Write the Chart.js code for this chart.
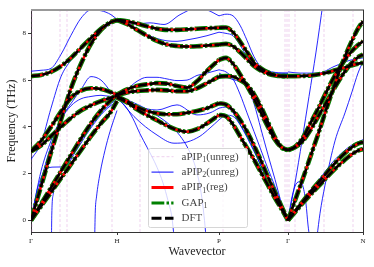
<!DOCTYPE html>
<html>
<head>
<meta charset="utf-8">
<script src="https://cdn.jsdelivr.net/npm/chart.js"></script>
<style>
  html, body { margin: 0; padding: 0; background: #fff; }
  canvas { display: block; }
</style>
</head>
<body>
<canvas id="myChart" width="374" height="267"></canvas>
<script>
// high symmetry points on the path
const pathTicks = [0, 0.86, 1.88, 2.57, 3.32];
const pathLabels = ['Γ', 'H', 'P', 'Γ', 'N'];
const freqTicks = [0, 2, 4, 6, 8];

// sample positions per segment
const xGH = [0, 0.10, 0.20, 0.30, 0.40, 0.50, 0.60, 0.70, 0.80, 0.86];
const xHP = [0.86, 0.96, 1.06, 1.16, 1.26, 1.36, 1.46, 1.56, 1.66, 1.76, 1.88];
const xPG = [1.88, 1.95, 2.02, 2.09, 2.16, 2.23, 2.30, 2.37, 2.44, 2.51, 2.57];
const xGN = [2.57, 2.64, 2.72, 2.80, 2.88, 2.96, 3.04, 3.12, 3.20, 3.27, 3.32];

// DFT / GAP / aPIP1(reg) bands (THz), they sit on top of each other
const bandsGH = [
  [6.17, 6.22, 6.35, 6.6, 6.95, 7.38, 7.8, 8.2, 8.48, 8.57],
  [0, 1.45, 2.9, 4.3, 5.65, 6.7, 7.55, 8.15, 8.48, 8.57],
  [2.95, 3.4, 4.0, 4.65, 5.25, 5.55, 5.65, 5.62, 5.48, 5.38],
  [2.95, 3.2, 3.6, 4.0, 4.38, 4.7, 4.92, 5.1, 5.25, 5.31],
  [0, 0.6, 1.2, 1.8, 2.4, 3.0, 3.6, 4.15, 4.65, 5.1],
  [0, 0.7, 1.4, 2.1, 2.8, 3.5, 4.15, 4.7, 5.15, 5.35]
];
const bandsHP = [
  [8.57, 8.52, 8.42, 8.3, 8.2, 8.15, 8.15, 8.17, 8.2, 8.22, 8.24],
  [8.57, 8.4, 8.15, 7.9, 7.68, 7.52, 7.46, 7.44, 7.45, 7.48, 7.52],
  [5.38, 5.6, 5.75, 5.82, 5.87, 5.85, 5.75, 5.68, 5.95, 6.4, 6.87],
  [5.35, 5.47, 5.53, 5.56, 5.58, 5.56, 5.52, 5.52, 5.65, 5.87, 6.15],
  [5.31, 5.1, 4.85, 4.68, 4.58, 4.54, 4.54, 4.6, 4.68, 4.8, 5.01],
  [5.25, 5.05, 4.75, 4.5, 4.28, 4.05, 3.87, 3.79, 3.9, 4.15, 4.51]
];
const bandsPG = [
  [8.24, 8.25, 8.05, 7.65, 7.2, 6.75, 6.5, 6.33, 6.22, 6.17, 6.17],
  [7.52, 7.55, 7.45, 7.2, 6.9, 6.6, 6.4, 6.27, 6.2, 6.17, 6.17],
  [6.87, 6.95, 6.7, 6.25, 5.75, 5.2, 4.6, 4.0, 3.45, 3.1, 3.0],
  [6.15, 6.17, 6.15, 6.0, 5.8, 5.4, 4.85, 4.2, 3.55, 3.12, 3.0],
  [5.01, 4.95, 4.7, 4.3, 3.8, 3.2, 2.55, 1.85, 1.2, 0.55, 0],
  [4.51, 4.45, 4.1, 3.6, 3.1, 2.6, 2.05, 1.5, 0.95, 0.45, 0]
];
const bandsGN = [
  [6.17, 6.17, 6.18, 6.2, 6.25, 6.32, 6.42, 6.52, 6.62, 6.7, 6.74],
  [0, 0.85, 1.8, 2.8, 3.8, 4.85, 5.85, 6.8, 7.6, 8.2, 8.52],
  [3.0, 3.15, 3.55, 4.2, 4.85, 5.55, 6.2, 6.75, 7.2, 7.5, 7.66],
  [3.0, 3.12, 3.4, 3.9, 4.5, 5.1, 5.7, 6.25, 6.7, 6.98, 7.09],
  [0, 0.35, 0.75, 1.12, 1.48, 1.85, 2.2, 2.52, 2.8, 2.98, 3.05],
  [0, 0.4, 0.82, 1.25, 1.65, 2.05, 2.45, 2.8, 3.1, 3.28, 3.35]
];

// aPIP2 (unreg) - thin blue lines, [x values, y values]
const aPIP2Lines = [
  [xGH, [6.38, 6.42, 6.5, 7.1, 7.92, 8.65, 9.0, 8.97, 8.8, 8.6]],
  [xGH, [2.6, 3.3, 4.8, 6.15, 6.85, 7.3, 7.7, 8.1, 8.42, 8.57]],
  [xGH, [0, 2.1, 3.4, 4.35, 5.0, 5.6, 6.15, 6.0, 5.5, 5.25]],
  [[0, 0.07, 0.17, 0.25, 0.34, 0.44, 0.59, 0.74, 0.86], [0, 1.44, 2.25, 2.28, 2.3, 2.9, 3.9, 4.7, 5.1]],
  [[0.205, 0.208, 0.223, 0.273, 0.357, 0.47, 0.61, 0.75, 0.86], [-0.7, 0.27, 1.13, 1.98, 2.4, 3.2, 4.1, 4.8, 5.2]],
  [[0.637, 0.643, 0.655, 0.69, 0.74, 0.79, 0.86], [-0.7, 0.4, 1.0, 2.0, 3.0, 3.8, 4.7]],
  [xGH, [0, 1.7, 3.2, 4.3, 4.9, 5.2, 5.3, 5.35, 5.3, 5.3]],
  [[0.86, 1.03, 1.19, 1.33, 1.49, 1.64, 1.76, 1.88], [8.57, 8.4, 8.45, 8.38, 8.8, 9.05, 9.0, 8.75]],
  [xHP, [8.57, 8.45, 8.2, 7.95, 7.78, 7.68, 7.66, 7.72, 7.8, 7.9, 8.05]],
  [xHP, [5.3, 5.6, 5.95, 6.12, 6.12, 6.05, 5.98, 6.0, 6.2, 6.3, 6.44]],
  [[0.86, 0.94, 1.02, 1.09, 1.16, 1.26, 1.32, 1.37, 1.41, 1.43], [5.2, 4.9, 4.35, 3.7, 3.13, 2.27, 1.6, 0.84, 0.1, -0.7]],
  [[0.86, 0.99, 1.14, 1.29, 1.41, 1.51, 1.59, 1.65, 1.70, 1.73, 1.75], [5.3, 5.1, 4.8, 4.4, 4.0, 3.5, 2.9, 2.2, 1.2, 0.2, -0.7]],
  [[0.86, 1.03, 1.26, 1.46, 1.66, 1.79, 1.88], [5.35, 4.94, 4.72, 4.94, 4.51, 4.6, 4.8]],
  [[0.86, 1.03, 1.26, 1.43, 1.56, 1.69, 1.79, 1.88], [5.3, 4.44, 3.65, 3.3, 3.35, 3.6, 3.95, 4.3]],
  [xPG, [8.75, 8.82, 8.75, 8.35, 7.7, 7.0, 6.55, 6.4, 6.33, 6.3, 6.3]],
  [xPG, [8.05, 8.0, 7.9, 7.5, 7.0, 6.65, 6.45, 6.35, 6.3, 6.3, 6.3]],
  [xPG, [6.44, 6.35, 6.05, 5.4, 4.6, 3.8, 3.0, 2.2, 1.45, 0.65, 0]],
  [xPG, [6.3, 6.15, 6.02, 5.95, 5.8, 5.0, 3.9, 2.8, 1.75, 0.65, 0]],
  [xPG, [4.8, 4.85, 4.6, 4.1, 3.55, 2.95, 2.35, 1.75, 1.15, 0.55, 0]],
  [xPG, [4.3, 4.5, 4.45, 4.1, 3.6, 3.0, 2.3, 1.6, 1.0, 0.45, 0]],
  [[2.57, 2.64, 2.71, 2.78, 2.85, 2.92], [0, 1.6, 3.4, 5.3, 7.2, 9.3]],
  [[2.57, 2.61, 2.65, 2.69, 2.72, 2.75, 2.77, 2.785], [0, 1.0, 1.55, 1.65, 1.45, 0.7, -0.2, -0.7]],
  [[2.57, 2.69, 2.87, 3.04, 3.19, 3.32], [6.35, 6.3, 6.3, 6.6, 6.85, 6.95]],
  [[2.86, 2.89, 2.94, 3.04, 3.14, 3.21, 3.27, 3.32], [-0.7, 0.3, 1.5, 3.4, 4.6, 5.5, 6.3, 6.8]],
  [[2.57, 2.72, 2.88, 3.04, 3.20, 3.32], [0, 0.9, 1.75, 2.6, 3.2, 3.45]]
];

// aPIP1 (unreg) blows up: only vertical dashed streaks are left in the window
const aPIP1UnregX = [0.01, 0.29, 0.36, 0.81, 1.09, 1.92, 2.30, 2.54, 2.56, 2.58, 2.64, 2.93, 3.22];

const legendBase = ['aPIP', 'aPIP', 'aPIP', 'GAP', 'DFT'];
const legendSub = ['1', '2', '1', '1', ''];
const legendTail = ['(unreg)', '(unreg)', '(reg)', '', ''];

const PINK = 'rgba(214,140,214,0.4)';
const BLUE = '#0000ff';
const RED = '#ff0000';
const GREEN = '#008000';
const BLACK = '#000000';

function pts(xs, ys) {
    return xs.map((x, i) => ({ x: x, y: ys[i] }));
}

const datasets = [];

aPIP1UnregX.forEach(x => {
    datasets.push({
        data: [{ x: x, y: -0.5 }, { x: x, y: 9 }],
        borderColor: PINK, borderWidth: 1, borderDash: [3, 2], order: 4
    });
});

aPIP2Lines.forEach(l => {
    datasets.push({
        data: pts(l[0], l[1]),
        borderColor: BLUE, borderWidth: 0.85, order: 3
    });
});

const segX = [xGH, xHP, xPG, xGN];
const segBands = [bandsGH, bandsHP, bandsPG, bandsGN];

segBands.forEach((bands, s) => {
    bands.forEach(b => {
        const d = pts(segX[s], b);
        datasets.push({ data: d, borderColor: GREEN, borderWidth: 4.6, borderDash: [12.8, 2.2, 2.5, 2.2], order: 2 });
        datasets.push({ data: d, borderColor: RED, borderWidth: 2.5, order: 1 });
        datasets.push({ data: d, borderColor: BLACK, borderWidth: 2.6, borderDash: [9, 2.5], order: 0 });
    });
});

const FONT = '"Liberation Serif", "DejaVu Serif", serif';
Chart.defaults.font.family = FONT;

// top / right spines
const framePlugin = {
    id: 'frame',
    afterDatasetsDraw(chart) {
        const ctx = chart.ctx;
        const a = chart.chartArea;
        ctx.save();
        ctx.strokeStyle = '#999';
        ctx.lineWidth = 2;
        ctx.beginPath();
        ctx.moveTo(a.left, a.top);
        ctx.lineTo(a.right + 1, a.top);
        ctx.stroke();
        ctx.strokeStyle = '#333';
        ctx.lineWidth = 1;
        ctx.beginPath();
        ctx.moveTo(a.right + 0.5, a.top);
        ctx.lineTo(a.right + 0.5, a.bottom);
        ctx.stroke();
        ctx.restore();
    }
};

// legend box inside the axes, like matplotlib
const legendPlugin = {
    id: 'boxLegend',
    afterDraw(chart) {
        const ctx = chart.ctx;
        const a = chart.chartArea;
        const x0 = a.left + 117, y0 = a.top + 138, w = 99, h = 79;
        ctx.save();
        ctx.fillStyle = 'rgba(255,255,255,0.8)';
        ctx.strokeStyle = '#d6d6d6';
        ctx.lineWidth = 1;
        ctx.beginPath();
        ctx.roundRect(x0 + 0.5, y0 + 0.5, w, h, 2);
        ctx.fill();
        ctx.stroke();

        const styles = [
            { c: PINK, w: 1, dash: [3, 2] },
            { c: BLUE, w: 1, dash: [] },
            { c: RED, w: 3, dash: [] },
            { c: GREEN, w: 3, dash: [12.8, 2.2, 2.5, 2.2] },
            { c: BLACK, w: 3, dash: [10, 3.5] }
        ];
        for (let i = 0; i < 5; i++) {
            const y = y0 + 8.7 + i * 15.4;
            ctx.strokeStyle = styles[i].c;
            ctx.lineWidth = styles[i].w;
            ctx.setLineDash(styles[i].dash);
            ctx.beginPath();
            ctx.moveTo(x0 + 3.5, y);
            ctx.lineTo(x0 + 25.5, y);
            ctx.stroke();
            ctx.setLineDash([]);

            ctx.fillStyle = '#444';
            ctx.textBaseline = 'middle';
            let tx = x0 + 33.5;
            ctx.font = '11px ' + FONT;
            ctx.fillText(legendBase[i], tx, y);
            tx += ctx.measureText(legendBase[i]).width;
            if (legendSub[i]) {
                ctx.font = '8px ' + FONT;
                ctx.fillText(legendSub[i], tx, y + 3);
                tx += ctx.measureText(legendSub[i]).width;
            }
            if (legendTail[i]) {
                ctx.font = '11px ' + FONT;
                ctx.fillText(legendTail[i], tx, y);
            }
        }
        ctx.restore();
    }
};

new Chart(document.getElementById('myChart'), {
    type: 'line',
    data: { datasets: datasets },
    options: {
        responsive: false,
        animation: false,
        devicePixelRatio: 1,
        layout: { padding: { left: 0, right: 11, top: 10, bottom: 0 } },
        elements: {
            point: { radius: 0 },
            line: { cubicInterpolationMode: 'monotone', borderCapStyle: 'butt' }
        },
        datasets: { line: { clip: 0, fill: false } },
        plugins: {
            legend: { display: false },
            tooltip: { enabled: false }
        },
        scales: {
            x: {
                type: 'linear',
                min: 0,
                max: 3.32,
                afterBuildTicks: s => { s.ticks = pathTicks.map(v => ({ value: v })); },
                afterFit: s => { s.height = 35; },
                ticks: {
                    callback: (v, i) => pathLabels[i],
                    autoSkip: false,
                    maxRotation: 0,
                    padding: 2,
                    color: '#222',
                    font: { size: 7 }
                },
                grid: { drawOnChartArea: false, drawTicks: true, tickLength: 3, color: '#333' },
                border: { display: true, color: '#333', width: 1 },
                title: {
                    display: true,
                    text: 'Wavevector',
                    color: '#222',
                    font: { size: 12 },
                    padding: { top: 0, bottom: 8 }
                }
            },
            y: {
                min: -0.5,
                max: 9,
                afterBuildTicks: s => { s.ticks = freqTicks.map(v => ({ value: v })); },
                afterFit: s => { s.width = 31; },
                ticks: { padding: 2, color: '#222', font: { size: 7 } },
                grid: { drawOnChartArea: false, drawTicks: true, tickLength: 3, color: '#333' },
                border: { display: true, color: '#333', width: 1 },
                title: {
                    display: true,
                    text: 'Frequency (THz)',
                    color: '#222',
                    font: { size: 12 },
                    padding: { top: 5, bottom: 0 }
                }
            }
        }
    },
    plugins: [framePlugin, legendPlugin]
});
</script>
</body>
</html>
